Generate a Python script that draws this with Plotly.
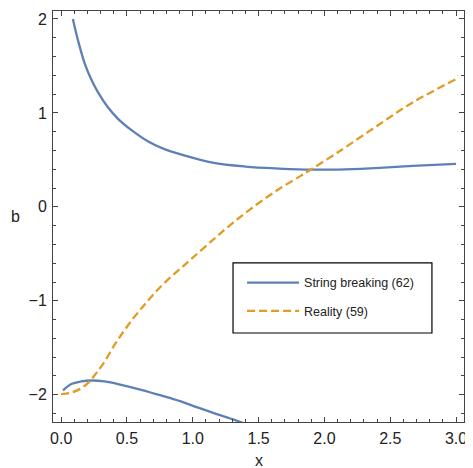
import plotly.graph_objects as go

# String breaking (62) - upper branch
sb_upper_x = [0.089, 0.127, 0.178, 0.229, 0.279, 0.355, 0.43, 0.532, 0.658, 0.784, 0.923, 1.15, 1.40, 1.655, 1.908, 2.16, 2.42, 2.67, 3.0]
sb_upper_y = [2.0, 1.777, 1.53, 1.355, 1.222, 1.06, 0.94, 0.819, 0.698, 0.614, 0.553, 0.471, 0.429, 0.408, 0.396, 0.40, 0.415, 0.436, 0.458]

# String breaking (62) - lower branch
sb_lower_x = [0.014, 0.077, 0.153, 0.229, 0.33, 0.456, 0.608, 0.759, 0.91, 1.011, 1.15, 1.30, 1.40]
sb_lower_y = [-1.954, -1.886, -1.858, -1.848, -1.858, -1.894, -1.947, -2.007, -2.071, -2.124, -2.19, -2.26, -2.31]

# Reality (59)
re_x = [0.0, 0.064, 0.14, 0.203, 0.267, 0.33, 0.405, 0.48, 0.557, 0.633, 0.708, 0.809, 0.91, 1.0,
        1.15, 1.30, 1.48, 1.655, 1.81, 1.90, 2.085, 2.16, 2.41, 2.67, 3.0]
re_y = [-1.993, -1.982, -1.94, -1.876, -1.77, -1.646, -1.47, -1.315, -1.17, -1.043, -0.92, -0.777, -0.652, -0.54,
        -0.355, -0.175, 0.02, 0.19, 0.322, 0.40, 0.565, 0.635, 0.872, 1.112, 1.36]

x_ticks = [0.0, 0.5, 1.0, 1.5, 2.0, 2.5, 3.0]
x_ticklabels = ["0.0", "0.5", "1.0", "1.5", "2.0", "2.5", "3.0"]
y_ticks = [-2, -1, 0, 1, 2]
y_ticklabels = ["\u22122", "\u22121", "0", "1", "2"]

BLUE = "#5E81B5"
ORANGE = "#E19C24"
FONT = "Liberation Sans"
TXT = "#222222"
AX = "#444444"

fig = go.Figure()
fig.add_trace(go.Scatter(x=sb_upper_x, y=sb_upper_y, mode="lines",
                         line=dict(color=BLUE, width=2.3, shape="spline"),
                         name="String breaking (62)", legendgroup="a"))
fig.add_trace(go.Scatter(x=sb_lower_x, y=sb_lower_y, mode="lines",
                         line=dict(color=BLUE, width=2.3, shape="spline"),
                         name="String breaking (62)", legendgroup="a", showlegend=False))
fig.add_trace(go.Scatter(x=re_x, y=re_y, mode="lines",
                         line=dict(color=ORANGE, width=2.3, dash="8px,4px", shape="spline"),
                         name="Reality (59)", legendgroup="b"))

axis_common = dict(
    showgrid=False, zeroline=False, showline=True, linecolor=AX, linewidth=1,
    mirror="ticks", ticks="inside", ticklen=5, tickcolor=AX, tickwidth=1,
    tickfont=dict(family=FONT, size=16, color=TXT), automargin=False,
)

fig.update_xaxes(range=[-0.062, 3.06], tickvals=x_ticks, ticktext=x_ticklabels,
                 minor=dict(dtick=0.1, tick0=0, ticks="inside", ticklen=3, tickcolor=AX),
                 ticklabelstandoff=2,
                 **axis_common)
fig.update_yaxes(range=[-2.29, 2.085], tickvals=y_ticks, ticktext=y_ticklabels,
                 minor=dict(dtick=0.2, tick0=0, ticks="inside", ticklen=3, tickcolor=AX),
                 ticklabelstandoff=2,
                 **axis_common)

# axis labels (horizontal, as in the original)
fig.add_annotation(text="b", xref="paper", yref="paper", x=-0.092, y=0.5, xanchor="center", yanchor="middle",
                   showarrow=False, font=dict(family=FONT, size=16, color=TXT))
fig.add_annotation(text="x", xref="paper", yref="paper", x=0.5, y=-0.093, xanchor="center", yanchor="middle",
                   showarrow=False, font=dict(family=FONT, size=16, color=TXT))

# legend frame
fig.add_shape(type="rect", xref="paper", yref="paper", x0=0.438, x1=0.922, y0=0.2165, y1=0.387,
              line=dict(color="black", width=1.2), fillcolor="white", layer="below")

# the page body adds an 8px offset, so the figure is drawn 8px right/down
fig.update_layout(
    width=465, height=460,
    margin=dict(l=45, r=9, t=3, b=46),
    plot_bgcolor="white", paper_bgcolor="white",
    font=dict(family=FONT, size=12.5, color=TXT),
    legend=dict(x=0.46, y=0.3747, xanchor="left", yanchor="top", bgcolor="rgba(0,0,0,0)",
                borderwidth=0, font=dict(family=FONT, size=12.5, color=TXT),
                tracegroupgap=9, itemwidth=52),
    showlegend=True,
)

fig.write_html("out.html")
